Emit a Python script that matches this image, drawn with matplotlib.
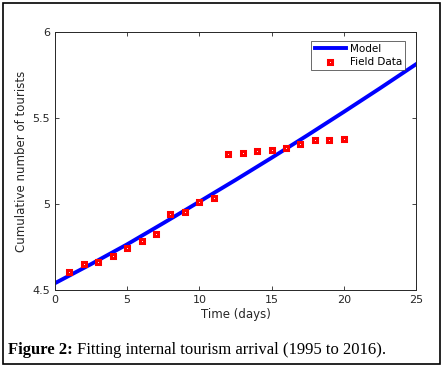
import matplotlib
matplotlib.use("Agg")
import matplotlib.pyplot as plt
from matplotlib.patches import Rectangle

# Field data
days = [1, 2, 3, 4, 5, 6, 7, 8, 9, 10, 11, 12, 13, 14, 15, 16, 17, 18, 19, 20]
field = [4.603, 4.651, 4.661, 4.697, 4.744, 4.785, 4.825, 4.939, 4.953, 5.009,
         5.032, 5.293, 5.299, 5.305, 5.315, 5.324, 5.346, 5.369, 5.371, 5.377]

# Model curve
model_t = [0, 2.5, 5, 7.5, 10, 12.5, 15, 17.5, 20, 22.5, 25]
model_y = [4.539, 4.650, 4.765, 4.888, 5.013, 5.139, 5.268, 5.400, 5.535, 5.672, 5.812]

xticks = [0, 5, 10, 15, 20, 25]
yticks = [4.5, 5, 5.5, 6]
ytick_labels = ["4.5", "5", "5.5", "6"]

fig = plt.figure(figsize=(4.43, 3.67), dpi=100)
ax = fig.add_axes([0.124, 0.210, 0.815, 0.703])

ax.plot(model_t, model_y, color="#0000ff", lw=2.8, label="Model", zorder=2)
ax.plot(days, field, ls="none", marker="s", ms=3.3, mfc="white", mec="#ff0000",
        mew=2.2, label="Field Data", zorder=3)

ax.set_xlim(0, 25)
ax.set_ylim(4.5, 6)
ax.set_xticks(xticks)
ax.set_yticks(yticks)
ax.set_yticklabels(ytick_labels)
gray = "#262626"
for s in ax.spines.values():
    s.set_color(gray)
    s.set_linewidth(0.7)
ax.tick_params(direction="in", top=True, right=True, length=3, width=0.6,
               colors=gray, labelsize=8)
ax.set_xlabel("Time (days)", fontsize=8.5, color=gray, labelpad=2)
ax.set_ylabel("Cumulative number of tourists", fontsize=8.5, color=gray, labelpad=3)

leg = ax.legend(loc="upper right", bbox_to_anchor=(0.985, 0.985), fontsize=7.5,
                frameon=True, fancybox=False, edgecolor=gray, borderpad=0.3,
                handlelength=3.0, handletextpad=0.4, labelspacing=0.3)
leg.get_frame().set_linewidth(0.6)

# Caption
t1 = fig.text(0.018, 0.035, "Figure 2:", fontsize=12, fontweight="bold",
              family="Liberation Serif", ha="left", va="baseline")
fig.text(0, 0, "", fontsize=1)
ann = fig.text(0.0, 0.0, "", fontsize=1)
from matplotlib.text import Annotation
a = Annotation("Fitting internal tourism arrival (1995 to 2016).", xy=(1, 0),
               xycoords=t1, xytext=(3, 0), textcoords="offset points",
               fontsize=12, family="Liberation Serif", ha="left", va="bottom")
fig.add_artist(a)

# Outer frame
fig.patches.append(Rectangle((0.007, 0.008), 0.987, 0.984, transform=fig.transFigure,
                             fill=False, edgecolor="black", lw=1.2))

fig.savefig("out.png", dpi=100)
